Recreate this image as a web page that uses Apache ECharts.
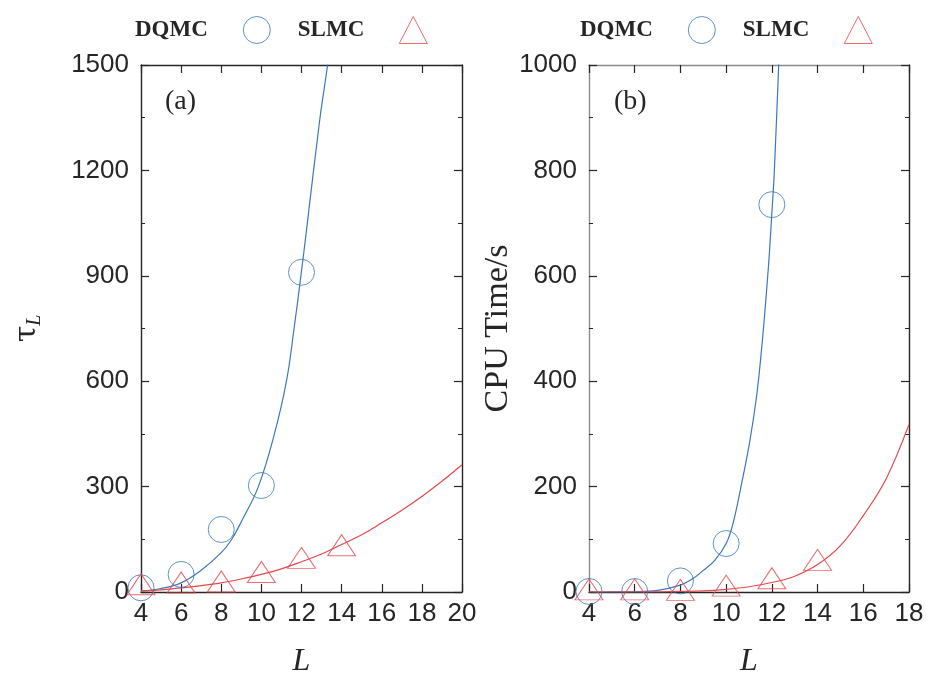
<!DOCTYPE html>
<html>
<head>
<meta charset="utf-8">
<script src="https://cdn.jsdelivr.net/npm/echarts@6/dist/echarts.min.js"></script>
<style>
  html, body { margin: 0; padding: 0; background: #ffffff; }
  #chart { width: 931px; height: 673px; }
</style>
</head>
<body>
<div id="chart"></div>
<script>
// ---- (a) autocorrelation time tau_L versus L ----
const sizesA = [4, 6, 8, 10, 12];
const tauDqmc = [12, 50, 178, 303, 910];
const sizesSlmcA = [4, 6, 8, 10, 12, 14];
const tauSlmc = [22, 27, 30, 57, 97, 133];

// fitted curves for (a), sampled along L
const fitDqmcAL = [4, 5, 6, 7, 8, 8.5, 9, 9.85, 10.65, 11.25, 11.63, 11.97, 12.25, 12.9, 13.3, 13.6];
const fitDqmcA = [3, 10, 26, 62, 112, 148, 200, 300, 450, 600, 750, 900, 1030, 1340, 1500, 1640];
const fitSlmcAL = [4, 5, 6, 7, 8, 9, 10, 11, 12, 13, 14, 15, 16, 17, 18, 19, 20];
const fitSlmcA = [2, 6, 12, 18, 26, 37, 50, 66, 86, 108, 135, 163, 197, 233, 272, 315, 362];

// ---- (b) CPU time versus L ----
const sizesB = [4, 6, 8, 10, 12];
const cpuDqmc = [1, 1, 21, 92, 735];
const sizesSlmcB = [4, 6, 8, 10, 12, 14];
const cpuSlmc = [5, 5, 4, 12, 26, 61];

// fitted curves for (b)
const fitDqmcBL = [4, 5, 6, 7, 8, 8.5, 9, 9.5, 10, 10.3, 10.65, 11.05, 11.41, 11.82, 12.03, 12.11, 12.3, 12.4];
const fitDqmcB = [0, 0.1, 0.5, 3, 13, 24, 41, 60, 92, 130, 200, 290, 400, 600, 740, 800, 1000, 1100];
const fitSlmcBL = [4, 6, 8, 9, 10, 11, 12, 13, 14, 15, 16, 17, 18];
const fitSlmcB = [0, 0, 1, 2, 5, 10, 18, 30, 52, 88, 145, 215, 318];

// axis ticks
const xTicksA = { min: 4, max: 20, interval: 2 };
const yTicksA = { min: 0, max: 1500, interval: 300 };
const xTicksB = { min: 4, max: 18, interval: 2 };
const yTicksB = { min: 0, max: 1000, interval: 200 };

const BLUE = '#3a78b8';
const RED = '#e4474b';
const INK = '#262626';

const pairs = (xs, ys) => xs.map((x, i) => [x, ys[i]]);
const plain = (v) => String(v);

function xAxisPair(gridIndex, ticks, lineColor) {
  const base = {
    type: 'value', gridIndex,
    min: ticks.min, max: ticks.max, interval: ticks.interval,
    splitLine: { show: false },
    axisTick: { show: true, inside: true, length: 8, lineStyle: { color: INK, width: 1.2 } }
  };
  return [
    Object.assign({}, base, {
      position: 'bottom',
      axisLine: { show: true, onZero: false, lineStyle: { color: INK, width: 1.4 } },
      axisLabel: { show: true, margin: 9, formatter: plain, fontFamily: 'Liberation Sans', fontSize: 26, color: INK },
      name: '{l|L}', nameLocation: 'middle', nameGap: 54,
      nameTextStyle: { rich: { l: { fontFamily: 'Liberation Serif', fontStyle: 'italic', fontSize: 32, color: INK } } }
    }),
    Object.assign({}, base, {
      position: 'top',
      axisLine: { show: true, onZero: false, lineStyle: { color: lineColor, width: 1.4 } },
      axisLabel: { show: false }
    })
  ];
}

function yAxisPair(gridIndex, ticks, leftColor, nameOpts) {
  const base = {
    type: 'value', gridIndex,
    min: ticks.min, max: ticks.max, interval: ticks.interval,
    splitLine: { show: false },
    axisTick: { show: true, inside: true, length: 8, lineStyle: { color: INK, width: 1.2 } },
    minorTick: { show: true, splitNumber: 2, length: 4, lineStyle: { color: INK, width: 1 } }
  };
  return [
    Object.assign({}, base, {
      position: 'left',
      axisLine: { show: true, onZero: false, lineStyle: { color: leftColor, width: 1.4 } },
      axisLabel: { show: true, margin: 12, formatter: plain, fontFamily: 'Liberation Sans', fontSize: 26, color: INK }
    }, nameOpts),
    Object.assign({}, base, {
      position: 'right',
      axisLine: { show: true, onZero: false, lineStyle: { color: INK, width: 1.4 } },
      axisLabel: { show: false }
    })
  ];
}

const hollow = (color) => ({ color: 'rgba(0,0,0,0)', borderColor: color, borderWidth: 1 });

function panelSeries(xi, yi, dq, sl, fitDq, fitSl) {
  return [
    { name: 'DQMC fit', type: 'line', xAxisIndex: xi, yAxisIndex: yi, data: fitDq,
      showSymbol: false, smooth: 0.4, clip: true,
      lineStyle: { color: BLUE, width: 1.2 }, silent: true, z: 2 },
    { name: 'SLMC fit', type: 'line', xAxisIndex: xi, yAxisIndex: yi, data: fitSl,
      showSymbol: false, smooth: 0.4, clip: true,
      lineStyle: { color: RED, width: 1.2 }, silent: true, z: 2 },
    { name: 'DQMC', type: 'scatter', xAxisIndex: xi, yAxisIndex: yi, data: dq,
      symbol: 'circle', symbolSize: 26, clip: false, itemStyle: hollow(BLUE), z: 3 },
    { name: 'SLMC', type: 'scatter', xAxisIndex: xi, yAxisIndex: yi, data: sl,
      symbol: 'triangle', symbolSize: [28, 21], clip: false, itemStyle: hollow(RED), z: 3 }
  ];
}

function legendFor(left) {
  return {
    left, top: 11, orient: 'horizontal', align: 'right',
    itemWidth: 28, itemHeight: 27, itemGap: 27,
    selectedMode: false,
    textStyle: { fontFamily: 'Liberation Serif', fontWeight: 'bold', fontSize: 23, color: INK, padding: [0, 30, 0, 0] },
    data: [
      { name: 'DQMC', icon: 'circle', itemStyle: hollow(BLUE) },
      { name: 'SLMC', icon: 'triangle', itemStyle: hollow(RED) }
    ]
  };
}

const chart = echarts.init(document.getElementById('chart'), null, { renderer: 'canvas' });

chart.setOption({
  animation: false,
  backgroundColor: '#ffffff',
  legend: [legendFor(130), legendFor(575)],
  title: [
    { text: '(a)', left: 160, top: 83, textStyle: { fontFamily: 'Liberation Serif', fontWeight: 'normal', fontSize: 28, color: INK } },
    { text: '(b)', left: 609, top: 83, textStyle: { fontFamily: 'Liberation Serif', fontWeight: 'normal', fontSize: 28, color: INK } }
  ],
  grid: [
    { left: 141, top: 65, width: 321, height: 527, outerBoundsMode: 'none', containLabel: false },
    { left: 589, top: 65, width: 320, height: 527, outerBoundsMode: 'none', containLabel: false }
  ],
  xAxis: [].concat(
    xAxisPair(0, xTicksA, INK),
    xAxisPair(1, xTicksB, '#8a8a8a')
  ),
  yAxis: [].concat(
    yAxisPair(0, yTicksA, INK, {
      name: '{t|τ}{s|L}', nameLocation: 'middle', nameRotate: 90, nameGap: 96,
      nameTextStyle: { rich: {
        t: { fontFamily: 'DejaVu Serif', fontSize: 30, color: INK },
        s: { fontFamily: 'Liberation Serif', fontStyle: 'italic', fontSize: 20, color: INK, padding: [16, 0, 0, 0] }
      } }
    }),
    yAxisPair(1, yTicksB, '#8a8a8a', {
      name: 'CPU Time/s', nameLocation: 'middle', nameRotate: 90, nameGap: 73,
      nameTextStyle: { fontFamily: 'Liberation Serif', fontSize: 34, color: INK }
    })
  ),
  series: [].concat(
    panelSeries(0, 0, pairs(sizesA, tauDqmc), pairs(sizesSlmcA, tauSlmc),
      pairs(fitDqmcAL, fitDqmcA), pairs(fitSlmcAL, fitSlmcA)),
    panelSeries(2, 2, pairs(sizesB, cpuDqmc), pairs(sizesSlmcB, cpuSlmc),
      pairs(fitDqmcBL, fitDqmcB), pairs(fitSlmcBL, fitSlmcB))
  )
});
</script>
</body>
</html>
